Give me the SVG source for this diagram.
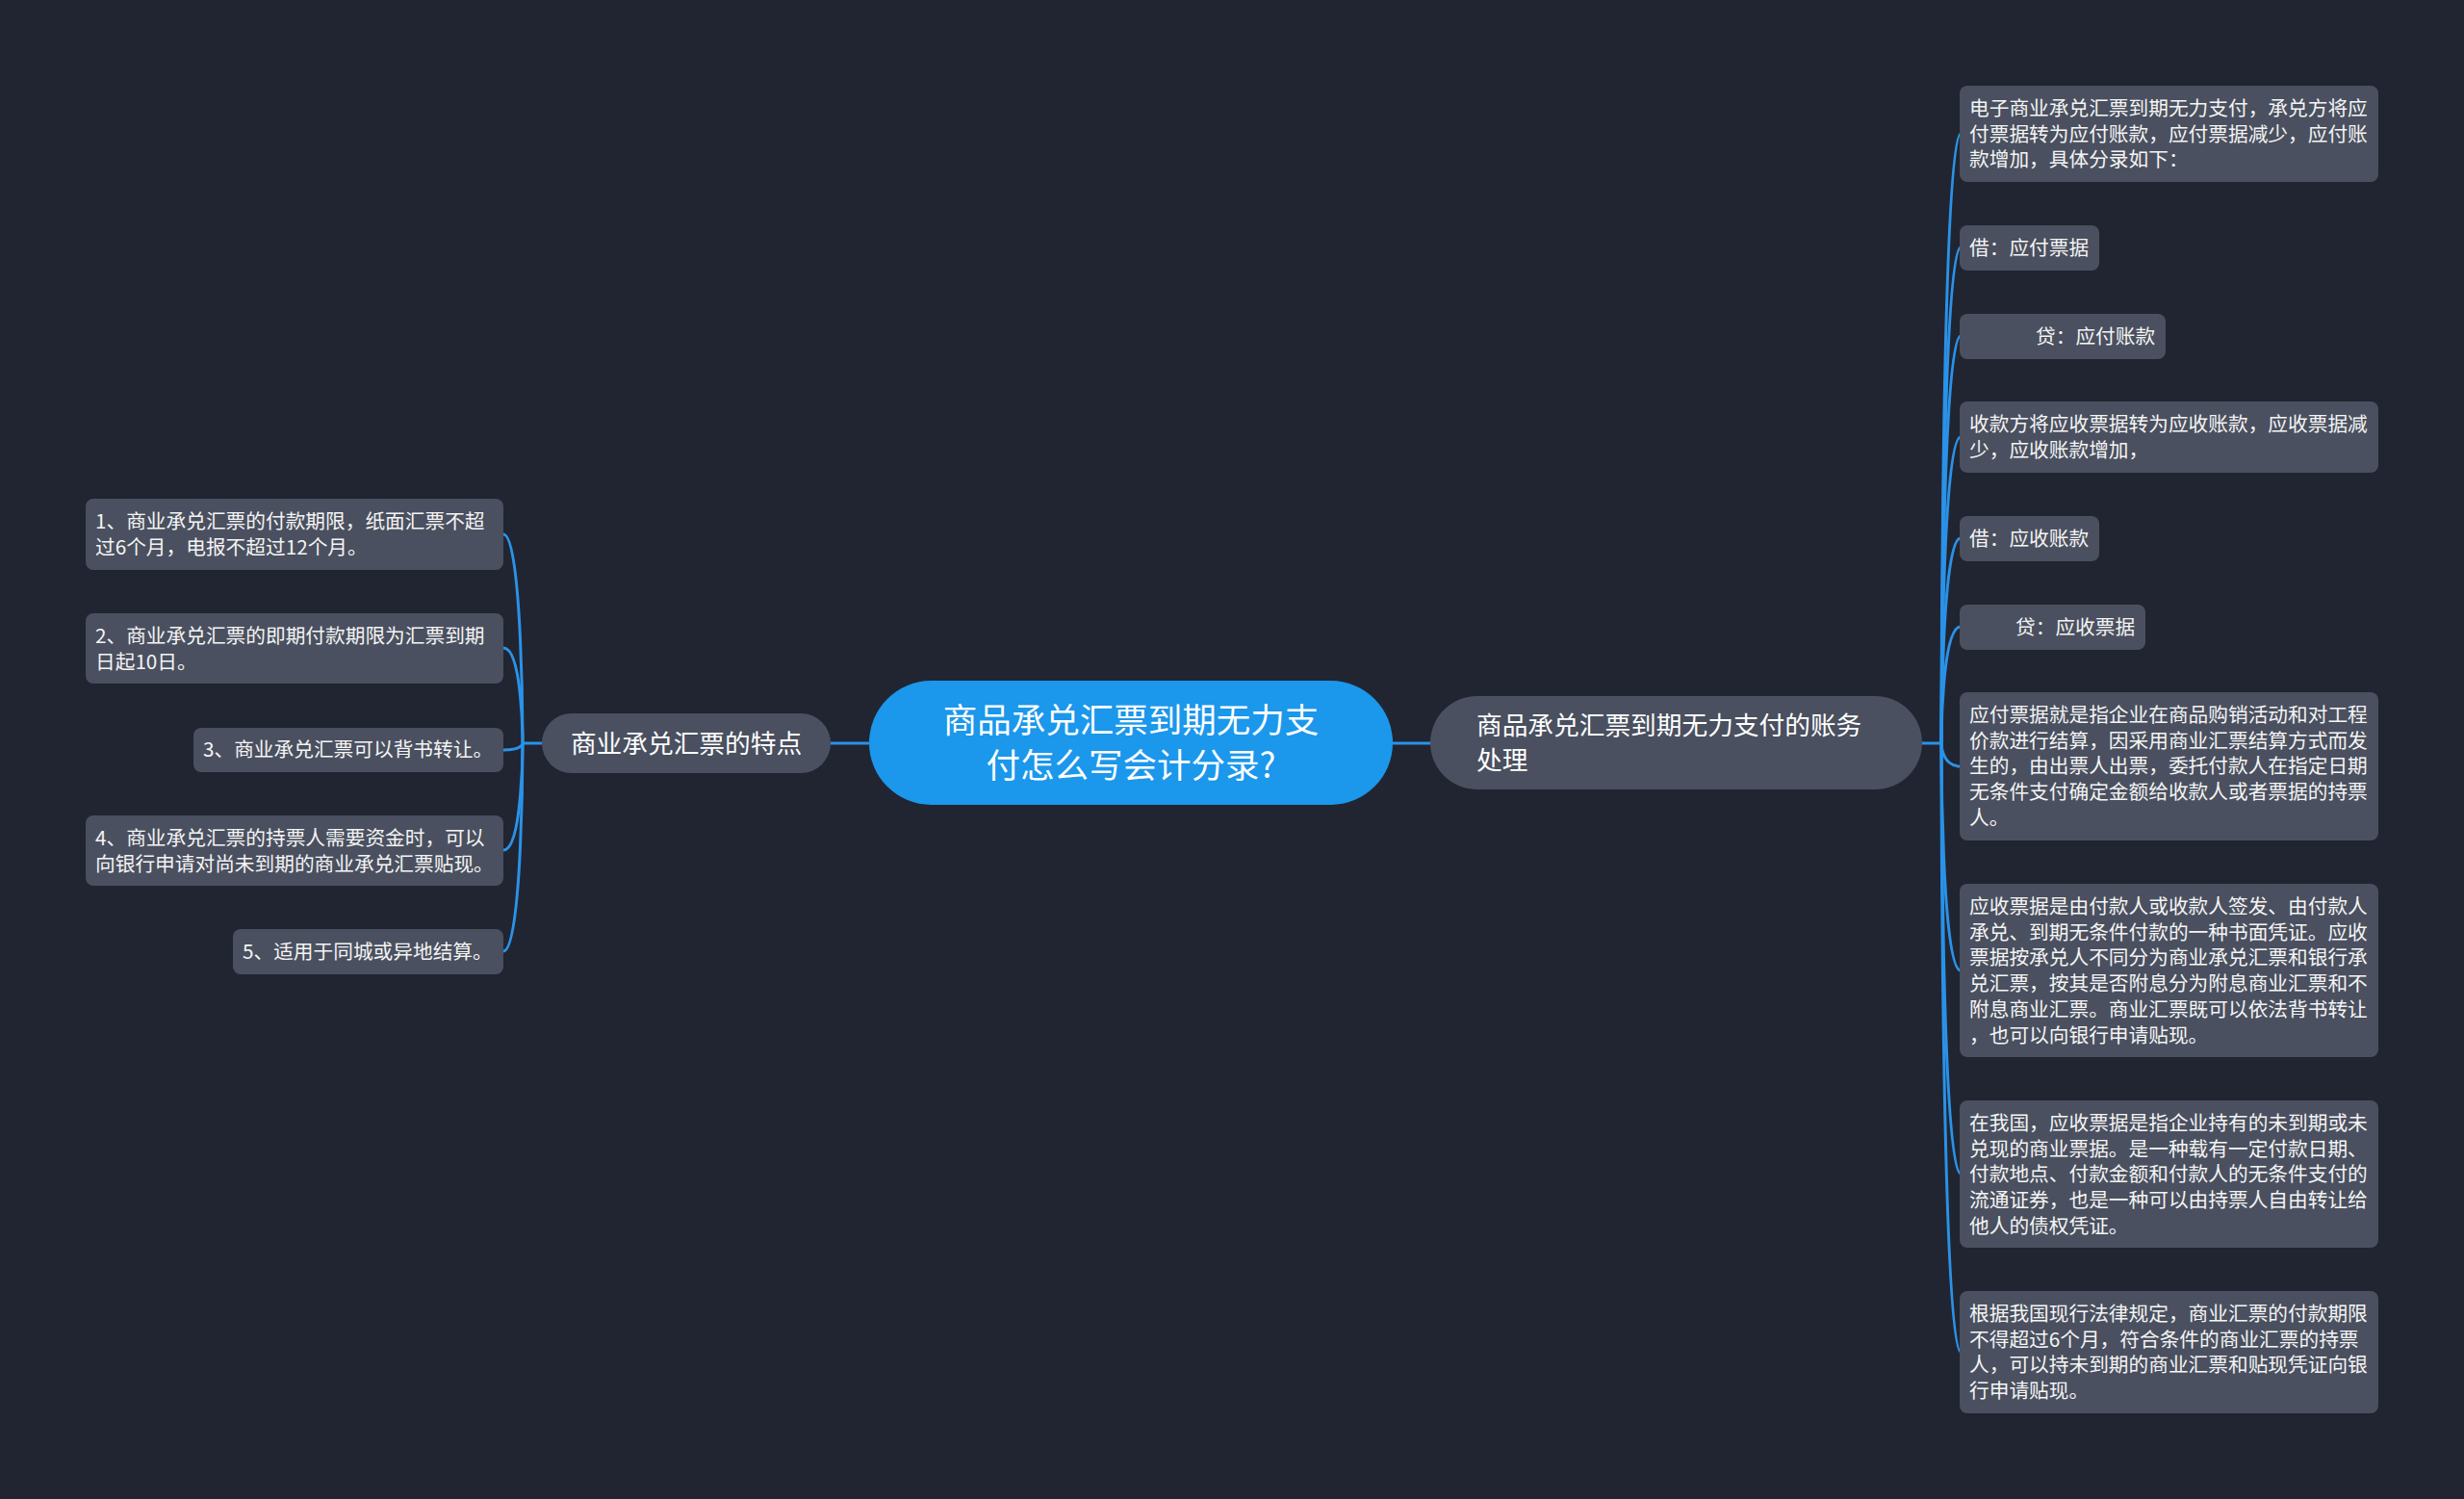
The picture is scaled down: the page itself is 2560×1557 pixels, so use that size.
<svg xmlns="http://www.w3.org/2000/svg" width="2560" height="1557" viewBox="0 0 2560 1557">
<style>
.bg{fill:#212531}
.leaf{fill:#4a505f}
.main{fill:#4a505f}
.root{fill:#1b97eb}
.lt{font-family:"Noto Sans CJK SC","Noto Sans",sans-serif;font-size:20.7px;fill:#f4f4f4}
.mt{font-family:"Noto Sans CJK SC","Noto Sans",sans-serif;font-size:26.7px;fill:#ffffff}
.rt{font-family:"Noto Sans CJK SC","Noto Sans",sans-serif;font-size:35.5px;fill:#ffffff}
.ln{fill:none;stroke:#2a92e8;stroke-width:3}
</style>
<rect class="bg" x="0" y="0" width="2560" height="1557"/>
<g id="connectors">
<path class="ln" d="M863 772 H903"/>
<path class="ln" d="M1447 772 H1486"/>
<path class="ln" d="M563 772 H543"/>
<path class="ln" d="M543 772 C543 772 543 555 523 555"/>
<path class="ln" d="M543 772 C543 772 543 673 523 673"/>
<path class="ln" d="M543 772 C543 772 543 779 523 779"/>
<path class="ln" d="M543 772 C543 772 543 883 523 883"/>
<path class="ln" d="M543 772 C543 772 543 988 523 988"/>
<path class="ln" d="M1997 772 H2017"/>
<path class="ln" d="M2017 772 C2017 772 2017 139 2037 139"/>
<path class="ln" d="M2017 772 C2017 772 2017 257 2037 257"/>
<path class="ln" d="M2017 772 C2017 772 2017 349 2037 349"/>
<path class="ln" d="M2017 772 C2017 772 2017 454 2037 454"/>
<path class="ln" d="M2017 772 C2017 772 2017 559 2037 559"/>
<path class="ln" d="M2017 772 C2017 772 2017 651 2037 651"/>
<path class="ln" d="M2017 772 C2017 772 2017 796 2037 796"/>
<path class="ln" d="M2017 772 C2017 772 2017 1008 2037 1008"/>
<path class="ln" d="M2017 772 C2017 772 2017 1219 2037 1219"/>
<path class="ln" d="M2017 772 C2017 772 2017 1404 2037 1404"/>
</g>
<g id="root">
<rect class="root" x="903" y="707" width="544" height="129" rx="64.5"/>
<text class="rt" x="1175" y="761" text-anchor="middle">商品承兑汇票到期无力支</text>
<text class="rt" x="1175" y="808" text-anchor="middle">付怎么写会计分录?</text>
</g>
<g id="left-main">
<rect class="main" x="563" y="741" width="300" height="62" rx="31"/>
<text class="mt" x="713" y="782" text-anchor="middle">商业承兑汇票的特点</text>
</g>
<g id="right-main">
<rect class="main" x="1486" y="723" width="511" height="97" rx="48.5"/>
<text class="mt" x="1534" y="763">商品承兑汇票到期无力支付的账务</text>
<text class="mt" x="1534" y="799">处理</text>
</g>
<g id="l1">
<rect class="leaf" x="89" y="518" width="434" height="74" rx="8"/>
<text class="lt" x="99" y="549">1、商业承兑汇票的付款期限，纸面汇票不超</text>
<text class="lt" x="99" y="575.7">过6个月，电报不超过12个月。</text>
</g>
<g id="l2">
<rect class="leaf" x="89" y="637" width="434" height="73" rx="8"/>
<text class="lt" x="99" y="668">2、商业承兑汇票的即期付款期限为汇票到期</text>
<text class="lt" x="99" y="694.7">日起10日。</text>
</g>
<g id="l3">
<rect class="leaf" x="201" y="756" width="322" height="46" rx="8"/>
<text class="lt" x="211" y="786">3、商业承兑汇票可以背书转让。</text>
</g>
<g id="l4">
<rect class="leaf" x="89" y="847" width="434" height="73" rx="8"/>
<text class="lt" x="99" y="878">4、商业承兑汇票的持票人需要资金时，可以</text>
<text class="lt" x="99" y="904.7">向银行申请对尚未到期的商业承兑汇票贴现。</text>
</g>
<g id="l5">
<rect class="leaf" x="242" y="965" width="281" height="47" rx="8"/>
<text class="lt" x="252" y="996">5、适用于同城或异地结算。</text>
</g>
<g id="r1">
<rect class="leaf" x="2036" y="89" width="435" height="100" rx="8"/>
<text class="lt" x="2046" y="120">电子商业承兑汇票到期无力支付，承兑方将应</text>
<text class="lt" x="2046" y="146.7">付票据转为应付账款，应付票据减少，应付账</text>
<text class="lt" x="2046" y="173.4">款增加，具体分录如下：</text>
</g>
<g id="r2">
<rect class="leaf" x="2036" y="234" width="145" height="47" rx="8"/>
<text class="lt" x="2046" y="265">借：应付票据</text>
</g>
<g id="r3">
<rect class="leaf" x="2036" y="326" width="214" height="47" rx="8"/>
<text class="lt" x="2115" y="357">贷：应付账款</text>
</g>
<g id="r4">
<rect class="leaf" x="2036" y="417" width="435" height="74" rx="8"/>
<text class="lt" x="2046" y="448">收款方将应收票据转为应收账款，应收票据减</text>
<text class="lt" x="2046" y="474.7">少，应收账款增加，</text>
</g>
<g id="r5">
<rect class="leaf" x="2036" y="536" width="145" height="47" rx="8"/>
<text class="lt" x="2046" y="567">借：应收账款</text>
</g>
<g id="r6">
<rect class="leaf" x="2036" y="628" width="193" height="47" rx="8"/>
<text class="lt" x="2094" y="659">贷：应收票据</text>
</g>
<g id="r7">
<rect class="leaf" x="2036" y="719" width="435" height="154" rx="8"/>
<text class="lt" x="2046" y="750">应付票据就是指企业在商品购销活动和对工程</text>
<text class="lt" x="2046" y="776.7">价款进行结算，因采用商业汇票结算方式而发</text>
<text class="lt" x="2046" y="803.4">生的，由出票人出票，委托付款人在指定日期</text>
<text class="lt" x="2046" y="830.1">无条件支付确定金额给收款人或者票据的持票</text>
<text class="lt" x="2046" y="856.8">人。</text>
</g>
<g id="r8">
<rect class="leaf" x="2036" y="918" width="435" height="180" rx="8"/>
<text class="lt" x="2046" y="949">应收票据是由付款人或收款人签发、由付款人</text>
<text class="lt" x="2046" y="975.7">承兑、到期无条件付款的一种书面凭证。应收</text>
<text class="lt" x="2046" y="1002.4">票据按承兑人不同分为商业承兑汇票和银行承</text>
<text class="lt" x="2046" y="1029.1">兑汇票，按其是否附息分为附息商业汇票和不</text>
<text class="lt" x="2046" y="1055.8">附息商业汇票。商业汇票既可以依法背书转让</text>
<text class="lt" x="2046" y="1082.5">，也可以向银行申请贴现。</text>
</g>
<g id="r9">
<rect class="leaf" x="2036" y="1143" width="435" height="153" rx="8"/>
<text class="lt" x="2046" y="1174">在我国，应收票据是指企业持有的未到期或未</text>
<text class="lt" x="2046" y="1200.7">兑现的商业票据。是一种载有一定付款日期、</text>
<text class="lt" x="2046" y="1227.4">付款地点、付款金额和付款人的无条件支付的</text>
<text class="lt" x="2046" y="1254.1">流通证券，也是一种可以由持票人自由转让给</text>
<text class="lt" x="2046" y="1280.8">他人的债权凭证。</text>
</g>
<g id="r10">
<rect class="leaf" x="2036" y="1341" width="435" height="127" rx="8"/>
<text class="lt" x="2046" y="1372">根据我国现行法律规定，商业汇票的付款期限</text>
<text class="lt" x="2046" y="1398.7">不得超过6个月，符合条件的商业汇票的持票</text>
<text class="lt" x="2046" y="1425.4">人，可以持未到期的商业汇票和贴现凭证向银</text>
<text class="lt" x="2046" y="1452.1">行申请贴现。</text>
</g>
</svg>
